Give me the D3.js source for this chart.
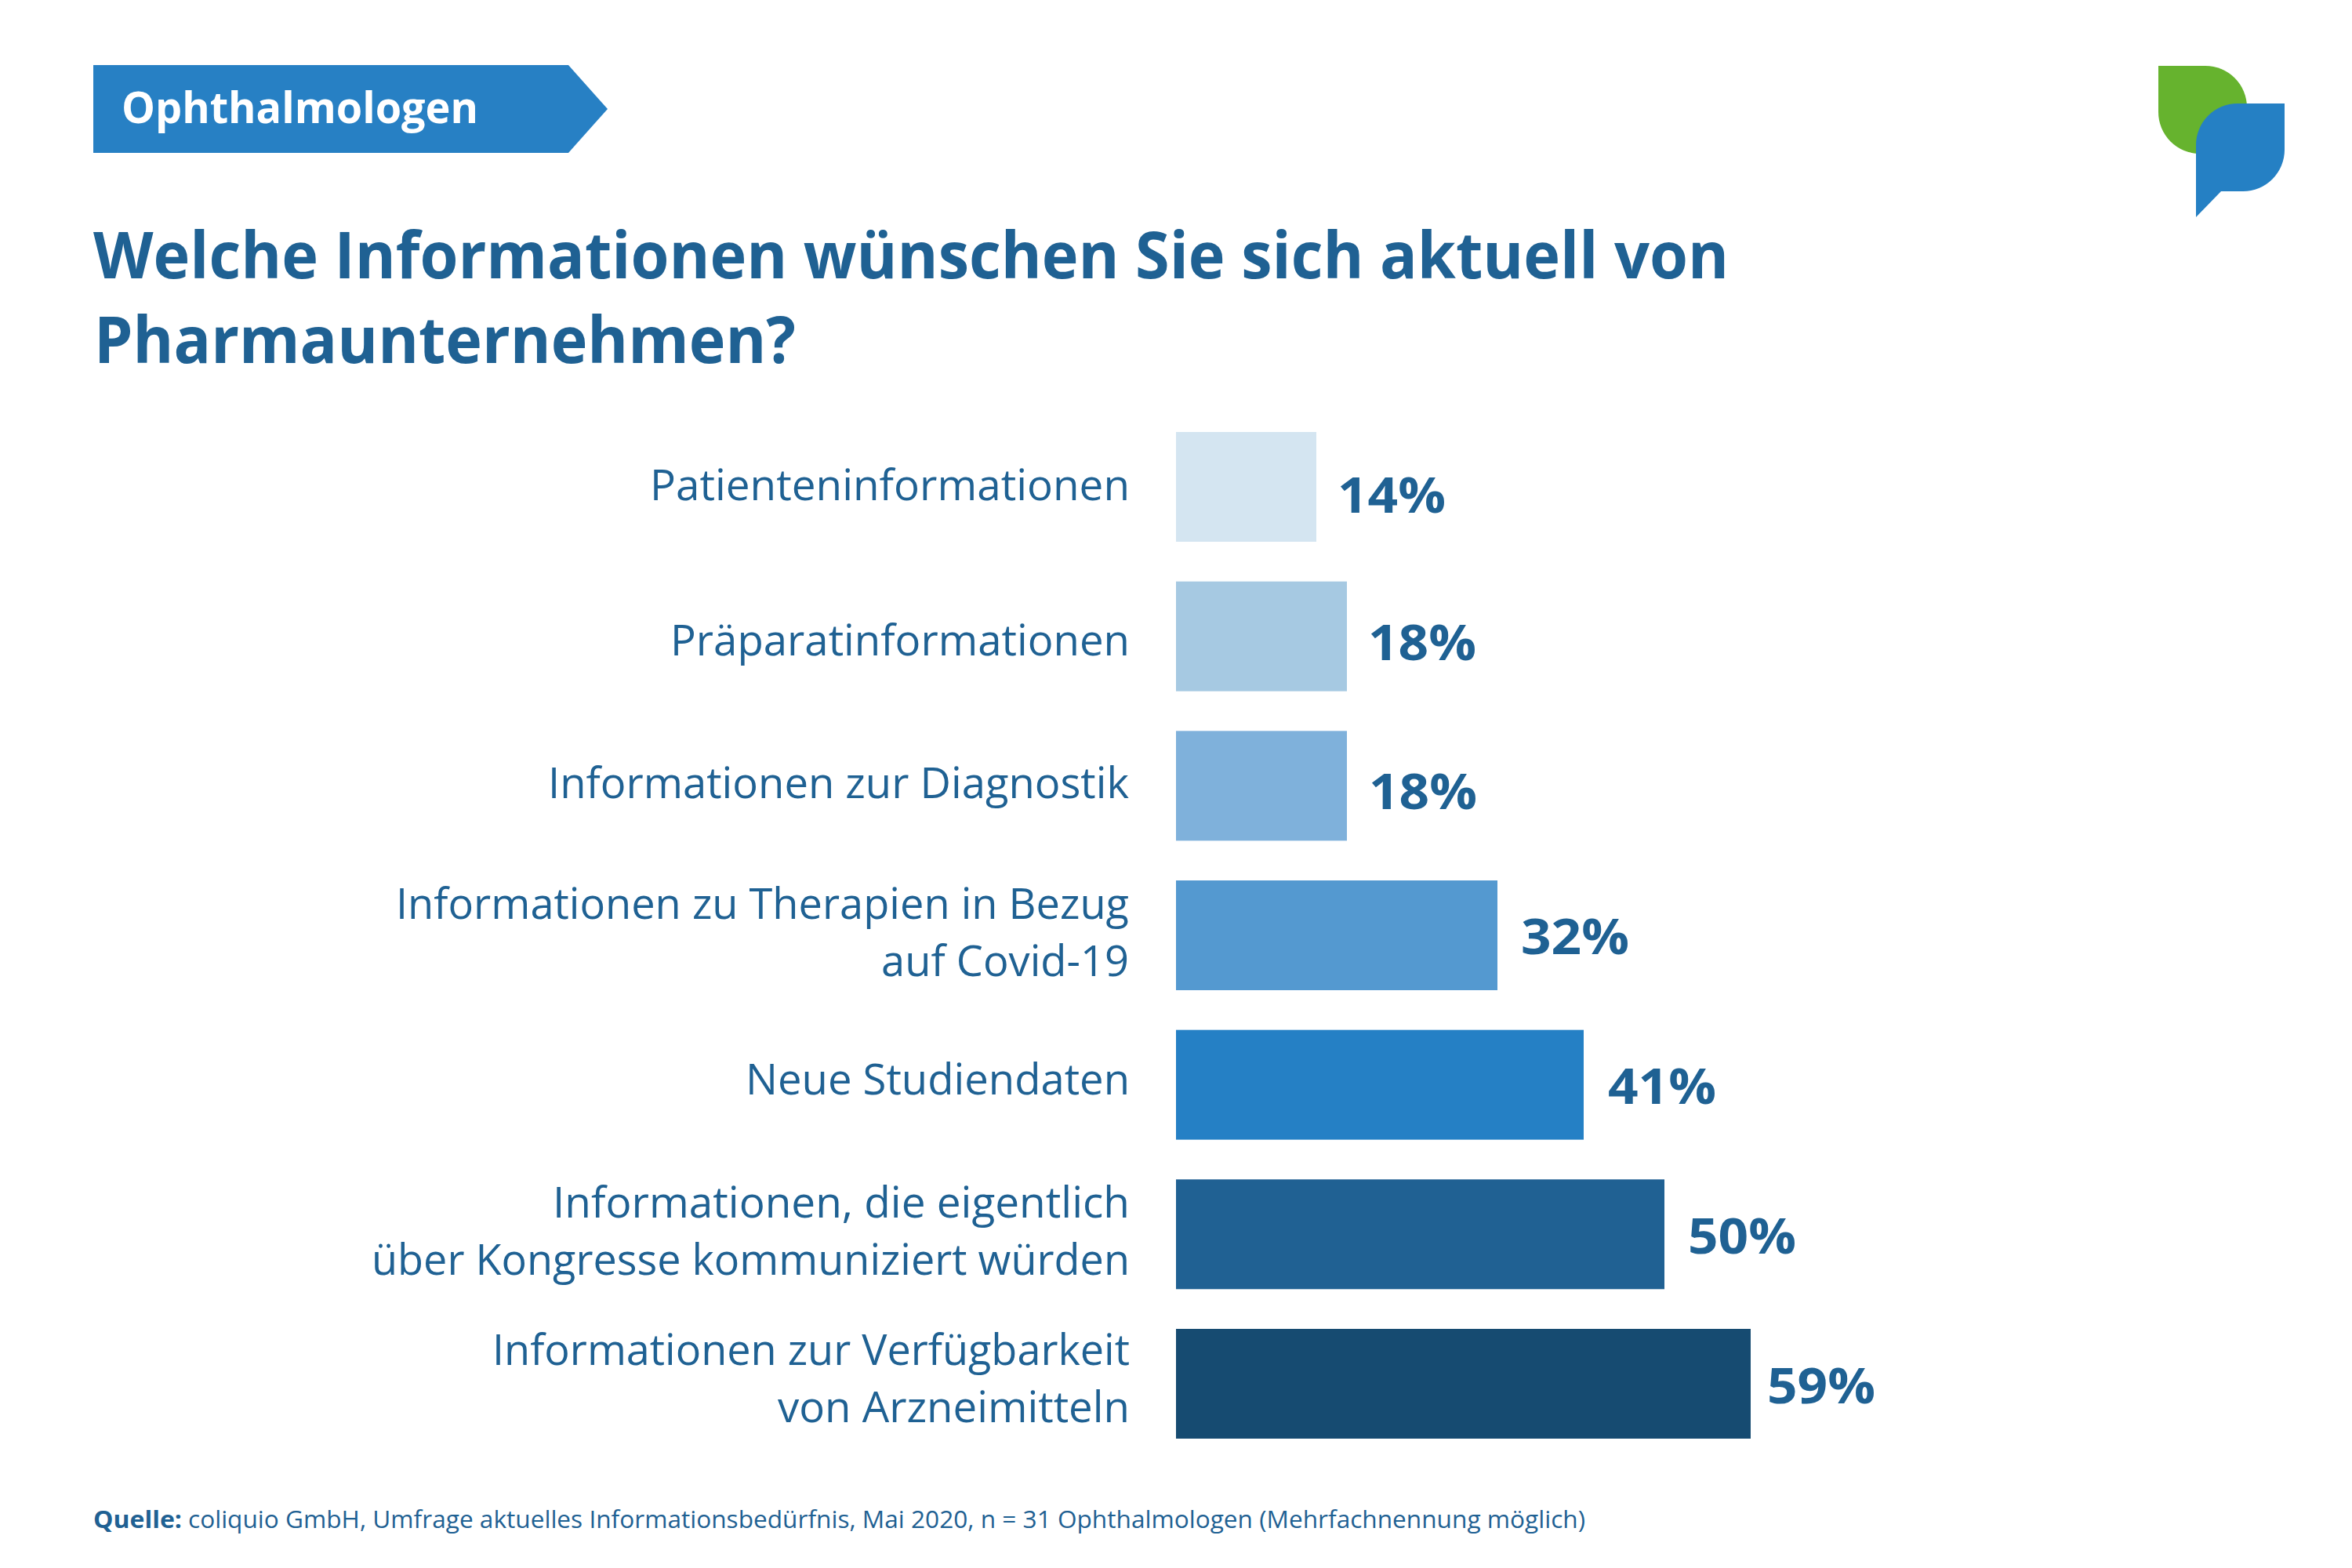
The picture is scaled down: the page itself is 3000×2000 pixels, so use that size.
<!DOCTYPE html>
<html lang="de">
<head>
<meta charset="utf-8">
<title>Ophthalmologen</title>
<script src="https://cdn.jsdelivr.net/npm/d3@7/dist/d3.min.js"></script>
<style>
html,body{margin:0;padding:0;background:#fff}
svg{display:block}
text{font-family:"Open Sans",sans-serif;fill:#1f6193}
</style>
</head>
<body>
<div id="chart"></div>
<script>
// --- data ---
const categories = [
  "Patienteninformationen",
  "Präparatinformationen",
  "Informationen zur Diagnostik",
  "Informationen zu Therapien in Bezug|auf Covid-19",
  "Neue Studiendaten",
  "Informationen, die eigentlich|über Kongresse kommuniziert würden",
  "Informationen zur Verfügbarkeit|von Arzneimitteln"
];
const values = [14, 18, 18, 32, 41, 50, 59];
const badgeText = "Ophthalmologen";
const titleLines = ["Welche Informationen wünschen Sie sich aktuell von", "Pharmaunternehmen?"];
const sourceLead = "Quelle:";
const sourceText = "coliquio GmbH, Umfrage aktuelles Informationsbedürfnis, Mai 2020, n = 31 Ophthalmologen (Mehrfachnennung möglich)";

// --- styling & layout (not data) ---
const barColors = ["#d4e5f1", "#a6c9e2", "#7fb1db", "#5499d0", "#2580c5", "#206193", "#164b71"];
const axisStops = [0, 14, 18, 32, 41, 50, 59];
const axisPixels = [1500, 1679, 1718, 1910, 2020, 2123, 2233];
const valueGap = [27, 27, 28, 30, 31, 30, 21];
const valueBaseline = [103, 100.3, 99.7, 94, 94.3, 95, 94.5];
const valueWidth = 138;
const catBaseline = [87, 94.7, 85.7, 48.6, 82, 48.5, 46];
const catWidths = [[612], [586], [741], [935, 316], [490], [736, 967], [813, 449]];
const catRight = [1441, 1441, 1440, 1440, 1441, 1441, 1441];
const catLineStep = 73;

const svg = d3.select("#chart").append("svg")
  .attr("width", 3000).attr("height", 2000).attr("viewBox", "0 0 3000 2000");

function fitted(sel, x, y, width, size, weight) {
  return sel.append("text")
    .attr("x", x).attr("y", y)
    .attr("font-size", size).attr("font-weight", weight)
    .attr("textLength", width).attr("lengthAdjust", "spacingAndGlyphs");
}

// badge
svg.append("path").attr("fill", "#2780c4")
  .attr("d", "M119,83H725L775,139L725,195H119Z");
fitted(svg, 155, 157, 455, 56, 700).style("fill", "#fff").text(badgeText);

// logo
svg.append("path").attr("fill", "#66b32e")
  .attr("d", "M2753,84H2813A53,53 0 0 1 2866,137V196H2806A53,53 0 0 1 2753,143Z");
svg.append("path").attr("fill", "#2580c4")
  .attr("d", "M2914,132H2854A53,53 0 0 0 2801,185V277L2833,244H2861A53,53 0 0 0 2914,191Z");

// title
const titleWidths = [2086, 895];
const titleLeft = [119, 120];
titleLines.forEach((t, i) => {
  fitted(svg, titleLeft[i], 355 + i * 108, titleWidths[i], 83, 700).text(t);
});

// scales
const x = d3.scaleLinear().domain(axisStops).range(axisPixels);
const y = d3.scaleBand().domain(categories).range([551, 1835]).paddingInner(1 - 140 / 190.67).paddingOuter(0);

// bars
svg.append("g").selectAll("rect").data(categories).join("rect")
  .attr("x", x(0))
  .attr("y", d => y(d))
  .attr("width", (d, i) => x(values[i]) - x(0))
  .attr("height", y.bandwidth())
  .attr("fill", (d, i) => barColors[i]);

// value labels
categories.forEach((c, i) => {
  fitted(svg, x(values[i]) + valueGap[i], y(c) + valueBaseline[i], valueWidth, 63, 700)
    .text(values[i] + "%");
});

// category labels
categories.forEach((c, i) => {
  c.split("|").forEach((line, j) => {
    const w = catWidths[i][j];
    fitted(svg, catRight[i] - w, y(c) + catBaseline[i] + j * catLineStep, w, 54, 400).text(line);
  });
});

// source
fitted(svg, 119, 1949, 113, 31, 700).text(sourceLead);
fitted(svg, 240, 1949, 1782, 31, 400).text(sourceText);
</script>
</body>
</html>
